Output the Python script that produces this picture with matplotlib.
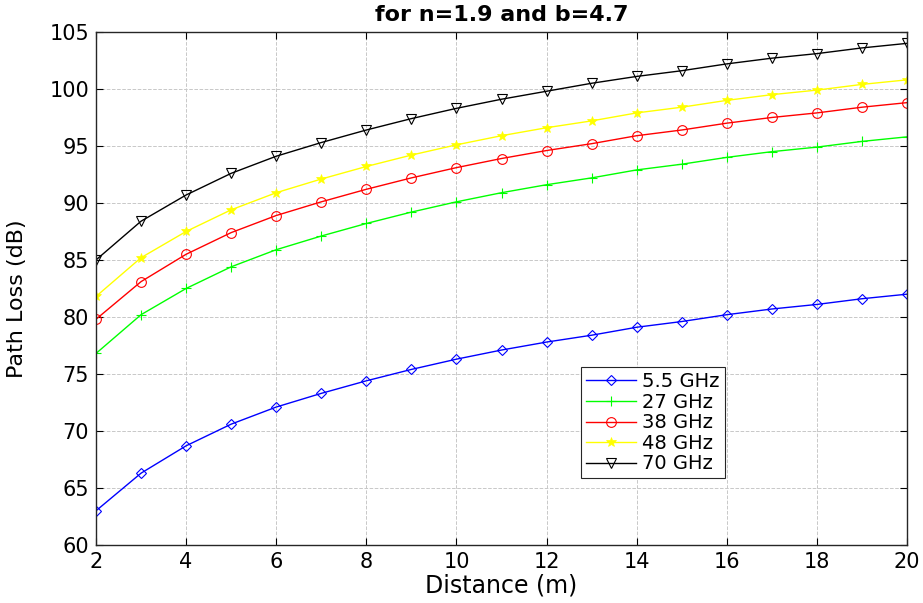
import matplotlib
matplotlib.use("Agg")
import matplotlib.pyplot as plt

distance = list(range(2, 21))
pl_5_5 = [63.0, 66.3, 68.7, 70.6, 72.1, 73.3, 74.4, 75.4, 76.3, 77.1, 77.8, 78.4, 79.1, 79.6, 80.2, 80.7, 81.1, 81.6, 82.0]
pl_27 = [76.8, 80.2, 82.5, 84.4, 85.9, 87.1, 88.2, 89.2, 90.1, 90.9, 91.6, 92.2, 92.9, 93.4, 94.0, 94.5, 94.9, 95.4, 95.8]
pl_38 = [79.8, 83.1, 85.5, 87.4, 88.9, 90.1, 91.2, 92.2, 93.1, 93.9, 94.6, 95.2, 95.9, 96.4, 97.0, 97.5, 97.9, 98.4, 98.8]
pl_48 = [81.8, 85.2, 87.5, 89.4, 90.9, 92.1, 93.2, 94.2, 95.1, 95.9, 96.6, 97.2, 97.9, 98.4, 99.0, 99.5, 99.9, 100.4, 100.8]
pl_70 = [85.0, 88.4, 90.7, 92.6, 94.1, 95.3, 96.4, 97.4, 98.3, 99.1, 99.8, 100.5, 101.1, 101.6, 102.2, 102.7, 103.1, 103.6, 104.0]
labels = ["5.5 GHz", "27 GHz", "38 GHz", "48 GHz", "70 GHz"]
xticks = list(range(2, 21, 2))
yticks = list(range(60, 106, 5))

plt.rcParams['font.family'] = ['DejaVu Sans']

fig = plt.figure(figsize=(9.23, 6.03), dpi=100)
ax = fig.add_axes([0.104, 0.0962, 0.8787, 0.8508])

series = [pl_5_5, pl_27, pl_38, pl_48, pl_70]
colors = ['#0000ff', '#00ff00', '#ff0000', '#ffff00', '#000000']
markers = ['D', '+', 'o', '*', 'v']
sizes = [5.5, 7, 7, 7, 7.5]
for ys, c, m, s, lab in zip(series, colors, markers, sizes, labels):
    if m == '+':
        ax.plot(distance, ys, color=c, marker=m, markersize=s, markeredgewidth=0.8, lw=1.0, label=lab)
    elif m == '*':
        ax.plot(distance, ys, color=c, marker=m, markersize=s, markeredgewidth=0.5, lw=1.0, label=lab)
    else:
        ax.plot(distance, ys, color=c, marker=m, markersize=s, markerfacecolor='none',
                markeredgewidth=0.8, lw=1.0, label=lab)

ax.set_xlim(2, 20)
ax.set_ylim(60, 105)
ax.set_xticks(xticks)
ax.set_yticks(yticks)
ax.tick_params(direction='in', top=True, right=True, labelsize=15, length=5, width=0.8, pad=5)
ax.grid(True, linestyle='--', color='#c8c8c8', linewidth=0.7)
for sp in ax.spines.values():
    sp.set_linewidth(1.0)
    sp.set_color('#262626')

ax.set_title("for n=1.9 and b=4.7", fontsize=16, fontweight='bold', pad=8)
ax.set_xlabel("Distance (m)", fontsize=17, labelpad=1)
ax.set_ylabel("Path Loss (dB)", fontsize=16)
ax.yaxis.set_label_coords(-0.085, 0.48)

leg = ax.legend(loc='lower left', bbox_to_anchor=(0.598, 0.13), fontsize=14, frameon=True,
                fancybox=False, edgecolor='#262626', framealpha=1, borderpad=0.25,
                labelspacing=0.08, handlelength=2.6, handletextpad=0.3, borderaxespad=0)
leg.get_frame().set_linewidth(0.8)

fig.savefig("out.png", dpi=100)
